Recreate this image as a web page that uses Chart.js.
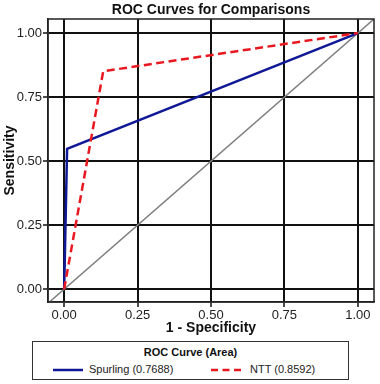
<!DOCTYPE html>
<html>
<head>
<meta charset="utf-8">
<script src="https://cdn.jsdelivr.net/npm/chart.js@4/dist/chart.umd.min.js"></script>
<style>
  html, body { margin: 0; padding: 0; background: #fff; }
  #wrap { position: relative; width: 380px; height: 384px; overflow: hidden; font-family: Arial, "Liberation Sans", sans-serif; }
  #c { position: absolute; left: 0; top: 0; }
  #legend { position: absolute; left: 32px; top: 341px; width: 315px; height: 37px; border: 1.5px solid #333; box-sizing: content-box; }
  #legend .ttl { position: absolute; left: 0; width: 100%; top: 4px; text-align: center; font-weight: bold; font-size: 11px; color: #111; }
  #legend .item { position: absolute; top: 21px; font-size: 11px; color: #222; white-space: nowrap; }
  #legend svg { position: absolute; }
</style>
</head>
<body>
<div id="wrap">
  <canvas id="c" width="380" height="340"></canvas>
  <div id="legend">
    <div class="ttl">ROC Curve (Area)</div>
    <svg style="left:19px;top:25px" width="32" height="6"><line x1="1" y1="3" x2="31" y2="3" stroke="rgb(16,24,150)" stroke-width="2.5"/></svg>
    <div class="item" style="left:56px">Spurling (0.7688)</div>
    <svg style="left:177px;top:25px" width="32" height="6"><line x1="1" y1="3" x2="31" y2="3" stroke="rgb(232,24,32)" stroke-width="2.5" stroke-dasharray="7 4.5"/></svg>
    <div class="item" style="left:217px">NTT (0.8592)</div>
  </div>
</div>
<script>
const chartTitle = 'ROC Curves for Comparisons';
const xTitle = '1 - Specificity';
const yTitle = 'Sensitivity';
const tickValues = [0, 0.25, 0.5, 0.75, 1];
const tickLabels = ['0.00', '0.25', '0.50', '0.75', '1.00'];
const spurlingX = [0, 0.01, 1];
const spurlingY = [0, 0.5476, 1];
const nttX = [0, 0.133, 1];
const nttY = [0, 0.851, 1];
const refX = [-0.1, 1.1];
const refY = [-0.1, 1.1];

const toPts = (xs, ys) => xs.map((x, i) => ({x: x, y: ys[i]}));

const FONT = 'Arial, "Liberation Sans", sans-serif';

const framePlugin = {
  id: 'frame',
  afterDraw(chart) {
    const {ctx, chartArea: a} = chart;
    ctx.save();
    ctx.strokeStyle = '#222';
    ctx.lineWidth = 1.5;
    ctx.strokeRect(a.left, a.top, a.right - a.left, a.bottom - a.top);
    ctx.fillStyle = '#111';
    ctx.font = 'bold 14px ' + FONT;
    ctx.textAlign = 'center';
    ctx.textBaseline = 'middle';
    ctx.fillText(chartTitle, (a.left + a.right) / 2, 10);
    ctx.restore();
  }
};

const setTicks = (scale) => { scale.ticks = tickValues.map(v => ({value: v})); };

new Chart(document.getElementById('c'), {
  type: 'scatter',
  data: {
    datasets: [
      { data: toPts(refX, refY), showLine: true, borderColor: 'rgb(128,128,128)', borderWidth: 1.5, pointRadius: 0, order: 3 },
      { data: toPts(spurlingX, spurlingY), showLine: true, borderColor: 'rgb(16,24,150)', borderWidth: 2.5, pointRadius: 0, order: 2 },
      { data: toPts(nttX, nttY), showLine: true, borderColor: 'rgb(232,24,32)', borderWidth: 2.5, borderDash: [8, 4.5], pointRadius: 0, order: 1 }
    ]
  },
  options: {
    responsive: false,
    animation: false,
    layout: { padding: { top: 19, right: 6, bottom: 2, left: 0 } },
    plugins: { legend: { display: false }, tooltip: { enabled: false }, title: { display: false } },
    scales: {
      x: {
        type: 'linear', min: -0.055, max: 1.055,
        afterBuildTicks: setTicks,
        afterFit: (s) => { s.height = 36; },
        grid: { color: '#111', lineWidth: 2, tickLength: 5, tickColor: '#111', tickWidth: 1.5 },
        border: { color: '#222', width: 1.5 },
        ticks: { font: { size: 13, family: FONT }, color: '#222', padding: 1, maxRotation: 0,
          callback: (v) => tickLabels[tickValues.indexOf(v)] },
        title: { display: true, text: xTitle, color: '#111', font: { size: 14, weight: 'bold', family: FONT }, padding: { top: 0, bottom: 1 } }
      },
      y: {
        type: 'linear', min: -0.05, max: 1.055,
        afterBuildTicks: setTicks,
        afterFit: (s) => { s.width = 48; },
        grid: { color: '#111', lineWidth: 2, tickLength: 5, tickColor: '#111', tickWidth: 1.5 },
        border: { color: '#222', width: 1.5 },
        ticks: { font: { size: 13, family: FONT }, color: '#222', padding: 1,
          callback: (v) => tickLabels[tickValues.indexOf(v)] },
        title: { display: true, text: yTitle, color: '#111', font: { size: 14, weight: 'bold', family: FONT }, padding: { top: 1.5, bottom: 0 } }
      }
    }
  },
  plugins: [framePlugin]
});
</script>
</body>
</html>
